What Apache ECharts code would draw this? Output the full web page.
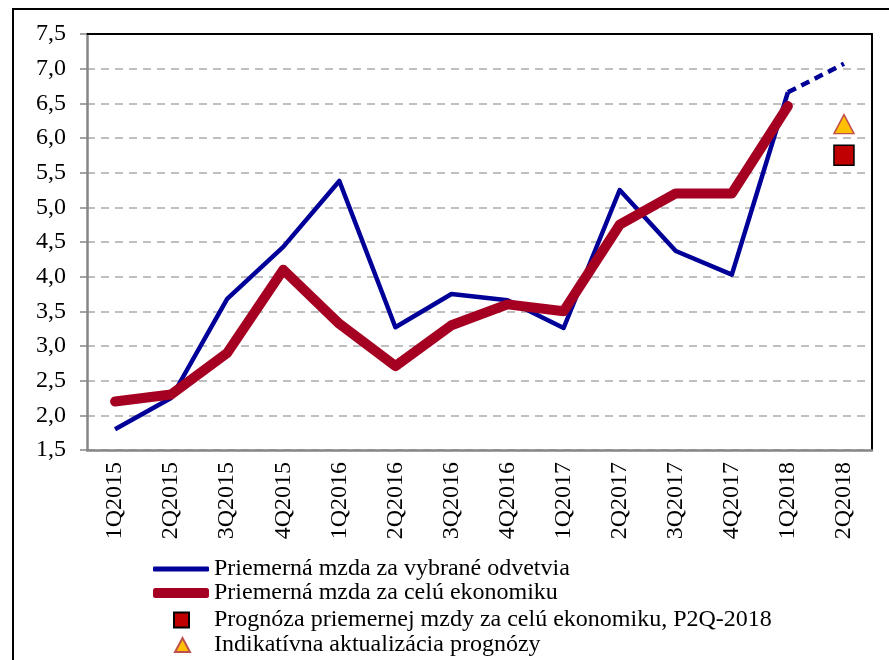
<!DOCTYPE html>
<html>
<head>
<meta charset="utf-8">
<title>Priemerná mzda</title>
<script src="https://cdn.jsdelivr.net/npm/echarts@6/dist/echarts.min.js"></script>
<style>
  html, body { margin: 0; padding: 0; background: #fff; }
  #main { width: 889px; height: 660px; }
</style>
</head>
<body>
<div id="main"></div>
<script>
    // kvartaly
    var kvartaly = ['1Q2015','2Q2015','3Q2015','4Q2015','1Q2016','2Q2016','3Q2016',
                    '4Q2016','1Q2017','2Q2017','3Q2017','4Q2017','1Q2018','2Q2018'];
    // priemerna mzda za vybrane odvetvia
    var odvetvia = [1.8, 2.25, 3.68, 4.43, 5.38, 3.27, 3.75, 3.66, 3.26, 5.25, 4.37, 4.03, 6.66, null];
    // odhad (prerusovana ciara)
    var odvetviaOdhad = [null, null, null, null, null, null, null, null, null, null, null, null, 6.66, 7.07];
    // priemerna mzda za celu ekonomiku
    var ekonomika = [2.2, 2.3, 2.9, 4.1, 3.32, 2.71, 3.3, 3.6, 3.5, 4.75, 5.2, 5.2, 6.46, null];
    // prognoza a aktualizacia
    var prognoza = [null, null, null, null, null, null, null, null, null, null, null, null, null, 5.75];
    var aktualizacia = [null, null, null, null, null, null, null, null, null, null, null, null, null, 6.2];
    var yTicks = [1.5, 7.5, 0.5]; // min, max, krok

    var nazvy = ['Priemerná mzda za vybrané odvetvia',
                 'Priemerná mzda za celú ekonomiku',
                 'Prognóza priemernej mzdy za celú ekonomiku, P2Q-2018',
                 'Indikatívna aktualizácia prognózy'];

    var font = 'Liberation Serif';
    var myChart = echarts.init(document.getElementById('main'));

    function legenda(meno, top, left, icon, w, h, posun) {
        return {
            data: [meno],
            top: top,
            left: left,
            padding: 0,
            icon: icon,
            itemWidth: w,
            itemHeight: h,
            selectedMode: false,
            textStyle: {
                fontFamily: font,
                fontSize: 24,
                color: '#000',
                padding: [0, 0, 0, posun]
            }
        };
    }

    var option = {
        animation: false,
        backgroundColor: '#fff',
        graphic: [{
            type: 'rect',
            shape: { x: 13, y: 9, width: 900, height: 700 },
            style: { fill: 'none', stroke: '#000', lineWidth: 2 },
            silent: true
        }],
        grid: { left: 87, right: 17, top: 34, bottom: 210 },
        legend: [
            legenda(nazvy[0], 557, 153, 'roundRect', 56, 5, 0),
            legenda(nazvy[1], 581, 153, 'roundRect', 56, 10, 0),
            legenda(nazvy[2], 608, 173, 'rect', 15, 15, 20),
            legenda(nazvy[3], 633, 174, 'triangle', 15, 14, 19)
        ],
        xAxis: [{
            type: 'category',
            data: kvartaly,
            boundaryGap: true,
            axisLine: { lineStyle: { color: '#868686', width: 2.5 } },
            axisTick: { show: false },
            axisLabel: {
                rotate: 90,
                margin: 12,
                fontFamily: font,
                fontSize: 24,
                color: '#000'
            },
            splitLine: { show: false }
        }, {
            type: 'category',
            position: 'top',
            data: kvartaly,
            axisLine: { lineStyle: { color: '#000', width: 2 } },
            axisTick: { show: false },
            axisLabel: { show: false }
        }],
        yAxis: [{
            type: 'value',
            min: yTicks[0],
            max: yTicks[1],
            interval: yTicks[2],
            axisLine: { show: true, lineStyle: { color: '#868686', width: 2.5 } },
            axisTick: { show: true, length: 7, lineStyle: { color: '#868686', width: 1.5 } },
            axisLabel: {
                margin: 21,
                fontFamily: font,
                fontSize: 24,
                color: '#000',
                formatter: function (v) { return v.toFixed(1).replace('.', ','); }
            },
            splitLine: {
                lineStyle: { color: '#BFBFBF', width: 2, type: [8, 6] }
            }
        }, {
            type: 'value',
            position: 'right',
            min: yTicks[0],
            max: yTicks[1],
            interval: yTicks[2],
            axisLine: { show: true, lineStyle: { color: '#000', width: 2 } },
            axisTick: { show: false },
            axisLabel: { show: false },
            splitLine: { show: false }
        }],
        series: [
            {
                name: nazvy[0],
                type: 'line',
                data: odvetvia,
                color: '#000099',
                symbol: 'none',
                itemStyle: { borderWidth: 0 },
                lineStyle: { width: 4.5, color: '#000099', join: 'round' },
                z: 3
            },
            {
                name: 'odhad',
                type: 'line',
                data: odvetviaOdhad,
                symbol: 'none',
                lineStyle: { width: 4.5, color: '#000099', type: [9, 6] },
                z: 3
            },
            {
                name: nazvy[1],
                type: 'line',
                data: ekonomika,
                color: '#A50021',
                symbol: 'none',
                itemStyle: { borderWidth: 0 },
                lineStyle: { width: 10, color: '#A50021', cap: 'round', join: 'round' },
                z: 4
            },
            {
                name: nazvy[2],
                type: 'scatter',
                data: prognoza,
                symbol: 'rect',
                symbolSize: 20,
                itemStyle: { color: '#C00000', borderColor: '#000', borderWidth: 1.5, opacity: 1 },
                z: 5
            },
            {
                name: nazvy[3],
                type: 'scatter',
                data: aktualizacia,
                symbol: 'triangle',
                symbolSize: [20, 19],
                itemStyle: { color: '#FFC000', borderColor: '#C0504D', borderWidth: 1.5, opacity: 1 },
                z: 5
            }
        ]
    };

    myChart.setOption(option);
</script>
</body>
</html>
